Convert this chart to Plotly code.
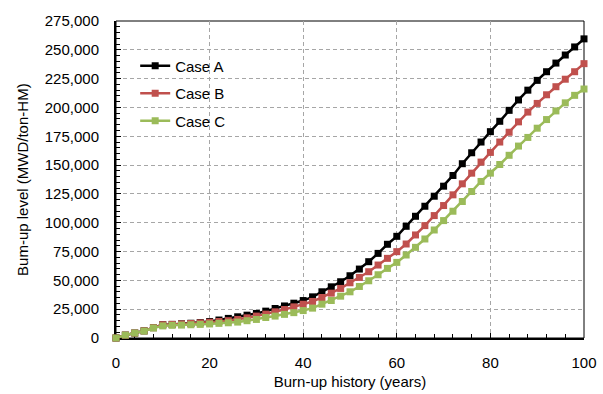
import plotly.graph_objects as go

# Burn-up history (years), one sample every 2 years
years = list(range(0, 101, 2))

# Burn-up level (MWD/ton-HM) for each case
case_a = [
    0, 2500, 4300, 6200, 9000, 11500, 11800, 12300, 12800, 13400,
    14300, 15600, 17000, 18400, 19800, 21300, 23300, 25600, 27800, 30200,
    32500, 35700, 40100, 44400, 48800, 54000, 59800, 66200, 73400, 81300,
    88200, 96900, 105600, 114300, 123000, 131700, 141000, 151200, 160700, 170000,
    179000, 188000, 197500, 206500, 215000, 223500, 231000, 238500, 245500, 252500,
    259500,
]
case_b = [
    0, 2500, 4300, 6200, 9000, 11500, 11800, 12200, 12600, 13100,
    13700, 14300, 15000, 16100, 17500, 19000, 20700, 22700, 24700, 27000,
    29300, 31700, 35150, 38900, 43000, 47900, 52550, 57500, 63300, 69100,
    74900, 81550, 89400, 97500, 106200, 114900, 124200, 133750, 143000, 152600,
    161000, 170000, 178500, 187500, 196000, 203500, 211000, 218000, 224500, 231000,
    238000,
]
case_c = [
    0, 2500, 4300, 6000, 8700, 10500, 11000, 11200, 11500, 11800,
    12200, 12700, 13200, 13800, 15000, 16100, 17800, 19000, 20500, 22000,
    23800, 25900, 29350, 32540, 36300, 40080, 44700, 49650, 54870, 60380,
    65600, 72000, 78650, 85900, 93700, 101850, 109970, 118400, 127100, 135800,
    143000, 150500, 158500, 166500, 174000, 182000, 189500, 197000, 204000, 210500,
    216000,
]

series = [
    ("Case A", case_a, "#000000"),
    ("Case B", case_b, "#C0504D"),
    ("Case C", case_c, "#9BBB59"),
]

fig = go.Figure()
for name, values, color in series:
    fig.add_trace(go.Scatter(
        x=years, y=values, name=name, legendgroup=name, mode="lines+markers",
        line=dict(color=color, width=2.5),
        marker=dict(symbol="square", size=7, color=color),
        cliponaxis=False,
    ))

font = dict(family="Liberation Sans, Arial, sans-serif", size=15, color="#000000")
grid = dict(showgrid=True, gridcolor="#A6A6A6", gridwidth=1, griddash="4px,3px")

fig.update_layout(
    width=603, height=394,
    margin=dict(l=116, r=19, t=21, b=56),
    paper_bgcolor="white", plot_bgcolor="white",
    font=font,
    showlegend=True,
    legend=dict(
        x=0.041, y=0.91, xanchor="left", yanchor="top",
        bgcolor="rgba(0,0,0,0)", font=font,
        itemwidth=30, tracegroupgap=5, traceorder="grouped",
    ),
    xaxis=dict(
        range=[0, 100], dtick=20, tick0=0, automargin=False,
        title=dict(text="Burn-up history (years)", font=font, standoff=6),
        showline=True, linecolor="#000000", linewidth=2,
        ticks="inside", ticklen=5, tickwidth=1, tickcolor="#000000",
        ticklabelstandoff=10,
        minor=dict(dtick=4, ticks="inside", ticklen=4, tickcolor="#000000"),
        zeroline=False, layer="below traces",
        **grid,
    ),
    yaxis=dict(
        range=[0, 275000], dtick=25000, tick0=0, tickformat=",", automargin=False,
        showline=True, linecolor="#000000", linewidth=2,
        ticks="inside", ticklen=5, tickwidth=1, tickcolor="#000000",
        ticklabelstandoff=12,
        minor=dict(dtick=5000, ticks="inside", ticklen=4, tickcolor="#000000"),
        zeroline=False, layer="below traces",
        **grid,
    ),
    annotations=[dict(
        text="Bum-up level (MWD/ton-HM)", textangle=-90,
        xref="paper", yref="paper", x=-0.2, y=0.5,
        xanchor="center", yanchor="middle", showarrow=False, font=font,
    )],
    shapes=[dict(
        type="rect", xref="paper", yref="paper", x0=0, y0=0, x1=1, y1=1,
        line=dict(color="#000000", width=1), layer="below",
    )],
)

fig.write_html("out.html")
